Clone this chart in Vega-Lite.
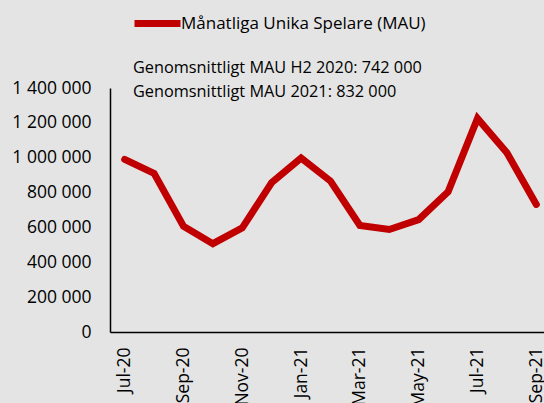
{
  "$schema": "https://vega.github.io/schema/vega-lite/v6.json",
  "width": 434,
  "height": 244,
  "autosize": {"type": "none"},
  "padding": {"left": 110, "top": 88, "right": 0, "bottom": 71},
  "background": "#E4E4E4",
  "config": {
    "font": "Open Sans",
    "view": {"stroke": null},
    "axis": {"labelColor": "#000", "domainColor": "#000", "domainWidth": 1.5, "ticks": false, "grid": false, "labelFont": "Open Sans", "labelFontSize": 17.5, "title": null}
  },
  "title": {
    "text": ["Genomsnittligt MAU H2 2020: 742 000", "Genomsnittligt MAU 2021: 832 000"],
    "anchor": "start",
    "frame": "group",
    "dx": 23,
    "dy": 97,
    "offset": -6,
    "fontSize": 16.3,
    "fontWeight": "normal",
    "font": "Open Sans",
    "color": "#000",
    "lineHeight": 24
  },
  "data": {
    "values": [
      {"month": "Jul-20", "mau": 990000, "series": "Månatliga Unika Spelare (MAU)"},
      {"month": "Aug-20", "mau": 910000, "series": "Månatliga Unika Spelare (MAU)"},
      {"month": "Sep-20", "mau": 607000, "series": "Månatliga Unika Spelare (MAU)"},
      {"month": "Oct-20", "mau": 507000, "series": "Månatliga Unika Spelare (MAU)"},
      {"month": "Nov-20", "mau": 597000, "series": "Månatliga Unika Spelare (MAU)"},
      {"month": "Dec-20", "mau": 857000, "series": "Månatliga Unika Spelare (MAU)"},
      {"month": "Jan-21", "mau": 998000, "series": "Månatliga Unika Spelare (MAU)"},
      {"month": "Feb-21", "mau": 866000, "series": "Månatliga Unika Spelare (MAU)"},
      {"month": "Mar-21", "mau": 611000, "series": "Månatliga Unika Spelare (MAU)"},
      {"month": "Apr-21", "mau": 588000, "series": "Månatliga Unika Spelare (MAU)"},
      {"month": "May-21", "mau": 645000, "series": "Månatliga Unika Spelare (MAU)"},
      {"month": "Jun-21", "mau": 805000, "series": "Månatliga Unika Spelare (MAU)"},
      {"month": "Jul-21", "mau": 1225000, "series": "Månatliga Unika Spelare (MAU)"},
      {"month": "Aug-21", "mau": 1029000, "series": "Månatliga Unika Spelare (MAU)"},
      {"month": "Sep-21", "mau": 732000, "series": "Månatliga Unika Spelare (MAU)"}
    ]
  },
  "mark": {"type": "line", "strokeWidth": 7, "strokeCap": "round", "strokeJoin": "miter"},
  "encoding": {
    "x": {
      "field": "month",
      "type": "ordinal",
      "sort": null,
      "scale": {"type": "point", "padding": 0.38, "align": 0.656},
      "axis": {
        "values": ["Jul-20", "Sep-20", "Nov-20", "Jan-21", "Mar-21", "May-21", "Jul-21", "Sep-21"],
        "labelAngle": -90,
        "labelAlign": "right",
        "labelBaseline": "middle",
        "labelPadding": 15
      }
    },
    "y": {
      "field": "mau",
      "type": "quantitative",
      "scale": {"domain": [0, 1400000], "nice": false},
      "axis": {
        "values": [0, 200000, 400000, 600000, 800000, 1000000, 1200000, 1400000],
        "labelExpr": "replace(replace(format(datum.value, ','), ',', ' '), ',', ' ')",
        "labelPadding": 19
      }
    },
    "color": {
      "field": "series",
      "type": "nominal",
      "scale": {"range": ["#C00000"]},
      "legend": {
        "title": null,
        "orient": "none",
        "legendX": 21,
        "legendY": -91,
        "symbolType": "stroke",
        "symbolSize": 2116,
        "symbolStrokeWidth": 7,
        "labelFontSize": 17,
        "labelFont": "Open Sans",
        "labelColor": "#000",
        "labelOffset": -3,
        "labelLimit": 400,
        "padding": 0
      }
    }
  }
}
